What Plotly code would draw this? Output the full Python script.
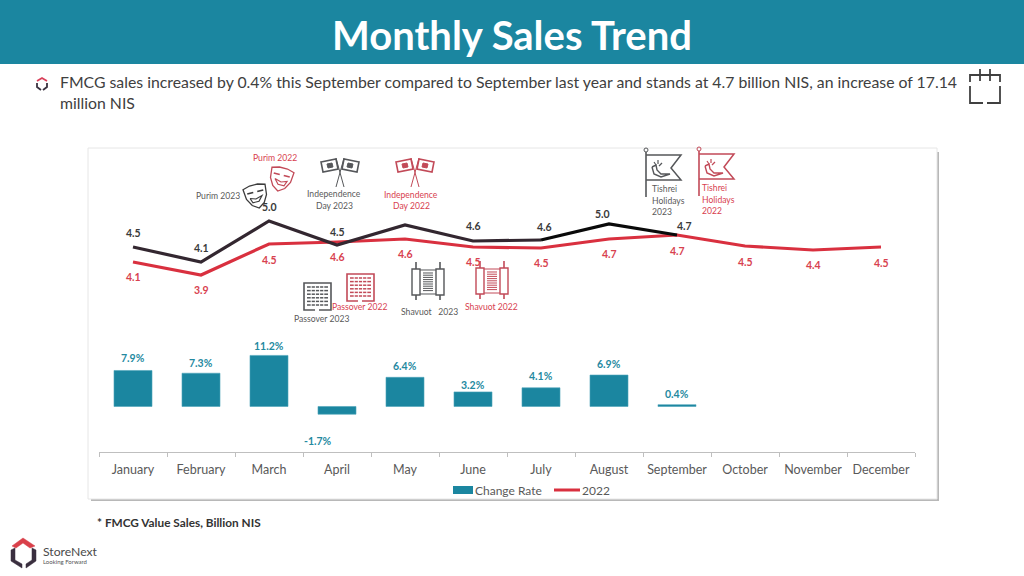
import plotly.graph_objects as go

months = ["January","February","March","April","May","June","July","August","September","October","November","December"]
change_rate = [7.9,7.3,11.2,-1.7,6.4,3.2,4.1,6.9,0.4]
change_labels = ["7.9%","7.3%","11.2%","-1.7%","6.4%","3.2%","4.1%","6.9%","0.4%"]
sales_2022 = [4.16,3.90,4.52,4.56,4.62,4.46,4.44,4.62,4.70,4.48,4.40,4.46]
labels_2022 = ["4.1","3.9","4.5","4.6","4.6","4.5","4.5","4.7","4.7","4.5","4.4","4.5"]
sales_2023 = [4.46,4.16,4.98,4.50,4.90,4.58,4.60,4.92,4.70]
labels_2023 = ["4.5","4.1","5.0","4.5","","4.6","4.6","5.0","4.7"]

# label offsets in screen pixels (x, y up) from the mark they belong to
off_2022 = [(0,-15),(0,-15),(0,-16),(0,-15),(0,-15),(0,-15),(0,-15),(0,-15),(0,-16),(0,-16),(0,-15),(0,-16)]
off_2023 = [(0,14),(0,14),(0,14),(0,13),(0,0),(0,15),(3,13),(-7,10),(7,9)]
off_bar = [(0,12),(0,10),(0,9),(-19,-27),(0,11),(0,7),(0,12),(0,11),(0,11)]

W, H = 1024, 576
TEAL = "#1B86A0"; RED = "#D9303F"; RED_T = "#D8414F"; DARK = "#332730"; ICON_D = "#55575A"; ICON_R = "#C24A58"
L, R, T, B = 99, 915, 150, 452

fig = go.Figure()
fig.add_bar(x=months[:9], y=change_rate, name="Change Rate", marker=dict(color=TEAL, line=dict(color="#4FA5BA", width=0.6)), yaxis="y")
fig.add_scatter(x=months, y=sales_2022, name="2022", mode="lines", line=dict(color=RED, width=3.2), yaxis="y2")
fig.add_scatter(x=months[:7], y=sales_2023[:7], name="2023", mode="lines", line=dict(color=DARK, width=3.2), yaxis="y2")
fig.add_scatter(x=months[6:9], y=sales_2023[6:9], name="2023", mode="lines", line=dict(color="#0A0A0A", width=3.2), yaxis="y2")

shapes, notes = [], []
def px(x): return (x - L) / (R - L)
def py(y): return (B - y) / (B - T)
def rect(x0, y0, x1, y1, fill, line=None, lw=0, layer="below"):
    shapes.append(dict(type="rect", xref="paper", yref="paper", x0=px(x0), x1=px(x1), y0=py(y0), y1=py(y1),
                       fillcolor=fill, line=dict(color=line or fill, width=lw), layer=layer))
def path(pts, color, lw=1.3, fill=None, close=False):
    d = "M" + " L".join(f"{px(a):.5f},{py(b):.5f}" for a, b in pts) + (" Z" if close else "")
    shapes.append(dict(type="path", xref="paper", yref="paper", path=d, line=dict(color=color, width=lw),
                       fillcolor=fill or "rgba(0,0,0,0)", layer="above"))
def text(x, y, s, size, color, anchor="center", bold=False, font="Lato"):
    notes.append(dict(xref="paper", yref="paper", x=px(x), y=py(y), text=f"<b>{s}</b>" if bold else s, showarrow=False,
                      xanchor=anchor, yanchor="middle", align="left" if anchor == "left" else "center",
                      font=dict(size=size, color=color, family=font), borderpad=0, borderwidth=0))

# header, card and shadow
rect(0, 0, 1024, 64, TEAL)
rect(91, 152, 939, 501, "#B8B8B8")
rect(88, 148, 937, 499, "#FFFFFF", "#E6E6E6", 1)

def mask(cx, cy, c, tilt):
    pts = [(-11,-8),(-4,-10),(4,-10),(11,-8),(10,2),(6,9),(0,13),(-6,9),(-10,2)]
    t = [(cx + a + tilt*b, cy + b - tilt*a) for a, b in pts]
    path(t, c, 1.3, close=True)
    for ex in (-5, 5):
        path([(cx+ex-3+tilt*-3, cy-3-tilt*(ex-3)), (cx+ex+3+tilt*-3, cy-3-tilt*(ex+3))], c, 1.8)
    path([(cx-6, cy+2+tilt*6), (cx-3, cy+7+tilt*3), (cx+3, cy+7-tilt*3), (cx+6, cy+2-tilt*6), (cx, cy+4), (cx-6, cy+2+tilt*6)], c, 1.2)
mask(256, 195, "#3C3C3C", 0.25)
mask(281, 178, ICON_R, -0.25)

def flags(x0, y0, c):
    # crossed flags in a 38x29 box
    path([(x0+15, y0), (x0+23, y0+29)], c, 1.0)
    path([(x0+23, y0), (x0+15, y0+29)], c, 1.0)
    path([(x0, y0+4),(x0+15, y0+1),(x0+17, y0+11),(x0+2, y0+14)], c, 1.6, close=True)
    path([(x0+38, y0+4),(x0+23, y0+1),(x0+21, y0+11),(x0+36, y0+14)], c, 1.6, close=True)
    path([(x0+6, y0+6),(x0+11, y0+5),(x0+12, y0+9),(x0+7, y0+10)], c, 1.0, fill=c, close=True)
    path([(x0+32, y0+6),(x0+27, y0+5),(x0+26, y0+9),(x0+31, y0+10)], c, 1.0, fill=c, close=True)
flags(321, 158, ICON_D)
flags(396, 158, ICON_R)

def matzah(x0, y0, c):
    w, h = 27, 27
    path([(x0, y0+3),(x0, y0),(x0+w, y0),(x0+w, y0+3)], c, 1.6)
    path([(x0, y0+3),(x0, y0+h),(x0+11, y0+h)], c, 1.6)
    path([(x0+w, y0+3),(x0+w, y0+h),(x0+15, y0+h)], c, 1.6)
    for r in range(6):
        y = y0 + 4 + r*3.6
        path([(x0+3, y),(x0+w-3, y)], c, 1.5)
    for k in range(1, 5):
        x = x0 + 3 + k*4.2
        path([(x, y0+3),(x, y0+h-3)], "#FFFFFF", 1.0)
matzah(304, 283, ICON_D)
matzah(347, 274, ICON_R)

def torah(x0, y0, c):
    for x in (x0+5, x0+29):
        path([(x-4, y0+7),(x+4, y0+7),(x+4, y0+33),(x-4, y0+33)], c, 1.4, close=True)
        path([(x, y0),(x, y0+7)], c, 1.6)
        path([(x, y0+33),(x, y0+38)], c, 1.6)
    path([(x0+9, y0+8),(x0+25, y0+8)], c, 1.0)
    path([(x0+9, y0+32),(x0+25, y0+32)], c, 1.0)
    for r in range(9):
        y = y0 + 11 + r*2.2
        path([(x0+12, y),(x0+22, y)], c, 1.0)
torah(411, 262, ICON_D)
torah(475, 261, ICON_R)

def tishrei(x0, y0, c):
    path([(x0, y0+3),(x0, y0+48)], c, 1.6)
    path([(x0, y0+6),(x0+35, y0+6),(x0+25, y0+19),(x0+35, y0+31),(x0, y0+31)], c, 1.5)
    path([(x0+6, y0+18),(x0+8, y0+25),(x0+15, y0+28),(x0+24, y0+25),(x0+15, y0+25),(x0+11, y0+21),(x0+10, y0+16),(x0+6, y0+18)], c, 1.4)
    path([(x0+8, y0+13),(x0+10, y0+16)], c, 1.2); path([(x0+12, y0+11),(x0+12, y0+15)], c, 1.2); path([(x0+16, y0+14),(x0+13, y0+17)], c, 1.2)
    shapes.append(dict(type="circle", xref="paper", yref="paper", x0=px(x0-2), x1=px(x0+2), y0=py(y0+3), y1=py(y0-1), line=dict(color=c, width=1), layer="above"))
tishrei(646, 149, ICON_D)
tishrei(699, 148, ICON_R)

# calendar icon
C = "#404040"
path([(970, 82),(970, 75),(1000, 75),(1000, 82)], C, 1.8)
path([(980, 69),(980, 81)], C, 1.8); path([(990, 69),(990, 81)], C, 1.8)
path([(970, 86),(970, 103),(983, 103)], C, 1.8); path([(1000, 86),(1000, 103),(987, 103)], C, 1.8)
# bullet
path([(37, 81),(42, 78),(47, 81)], "#D9405A", 1.8)
path([(37, 83),(37, 87),(41, 90)], "#3A3340", 1.8); path([(47, 83),(47, 87),(43, 90)], "#3A3340", 1.8)
# logo
path([(12, 546),(23, 538),(35, 546),(30, 548),(23, 543),(16, 548)], "#D9404A", 0.5, fill="#D9404A", close=True)
path([(11, 550),(15, 548),(15, 560),(22, 564),(22, 568),(11, 561)], "#3A2F3F", 0.5, fill="#3A2F3F", close=True)
path([(36, 550),(32, 548),(32, 560),(26, 564),(26, 568),(36, 561)], "#3A2F3F", 0.5, fill="#3A2F3F", close=True)

# legend key
rect(453, 486, 473, 494, TEAL, layer="above")
path([(554, 490),(580, 490)], RED, 3)
text(475, 490, "Change Rate", 12, "#595959", "left")
text(582, 490, "2022", 12, "#595959", "left")

text(512, 35, "Monthly Sales Trend", 40, "#FFFFFF", bold=True)
text(60, 82, "FMCG sales increased by 0.4% this September compared to September last year and stands at 4.7 billion NIS, an increase of 17.14", 15.8, "#404040", "left")
text(60, 102, "million NIS", 15.8, "#404040", "left")
text(97, 522, "* FMCG Value Sales, Billion NIS", 11.8, "#333333", "left", bold=True)
text(43, 551, "StoreNext", 12.2, "#4A4A4A", "left")
text(43, 561, "Looking Forward", 6, "#555555", "left")

G = "#5A5A5A"
for x, y, s, c, a in [(275,158,"Purim 2022",RED_T,"center"),(218,196,"Purim 2023",G,"center"),
    (334,194,"Independence",G,"center"),(334,206,"Day 2023",G,"center"),
    (411,195,"Independence",RED_T,"center"),(411,206,"Day 2022",RED_T,"center"),
    (359,307,"Passover 2022",RED_T,"center"),(321,319,"Passover 2023",G,"center"),
    (429,312,"Shavuot   2023",G,"center"),(491,307,"Shavuot 2022",RED_T,"center"),
    (652,189,"Tishrei",G,"left"),(652,201,"Holidays",G,"left"),(652,212,"2023",G,"left"),
    (702,188,"Tishrei",RED_T,"left"),(702,200,"Holidays",RED_T,"left"),(702,211,"2022",RED_T,"left")]:
    text(x, y, s, 8.6, c, a)

def mark_labels(xs, ys, labels, offs, yaxis, color):
    for m, v, s, (dx, dy) in zip(xs, ys, labels, offs):
        if s:
            notes.append(dict(x=m, y=v, xref="x", yref=yaxis, text=f"<b>{s}</b>", showarrow=False, xshift=dx, yshift=dy,
                              xanchor="center", yanchor="middle", font=dict(size=10.5, color=color, family="Lato")))
mark_labels(months, sales_2022, labels_2022, off_2022, "y2", RED_T)
mark_labels(months, sales_2023, labels_2023, off_2023, "y2", "#3A3A3A")
mark_labels(months, change_rate, change_labels, off_bar, "y", "#24899F")

fig.update_layout(
    width=W, height=H, autosize=False, margin=dict(l=L, r=W-R, t=T, b=H-B, pad=0),
    paper_bgcolor="white", plot_bgcolor="rgba(0,0,0,0)", showlegend=False, bargap=0.441,
    font=dict(family="Lato", color="#595959"),
    xaxis=dict(categoryorder="array", categoryarray=months, range=[-0.5, 11.5], tickson="boundaries", ticks="outside", ticklen=4,
               tickcolor="#BFBFBF", linecolor="#BFBFBF", showline=True, showgrid=False, zeroline=False, tickangle=0, ticklabelstandoff=6,
               tickfont=dict(size=12.5, color="#595959", family="Lato"), fixedrange=True),
    yaxis=dict(range=[-9.98, 56.25], visible=False, fixedrange=True),
    yaxis2=dict(range=[0.36, 6.4], overlaying="y", visible=False, fixedrange=True),
    shapes=shapes, annotations=notes,
)
fig.write_html("out.html", config=dict(displayModeBar=False), post_script="document.body.style.margin='0';document.body.style.overflow='hidden';")
